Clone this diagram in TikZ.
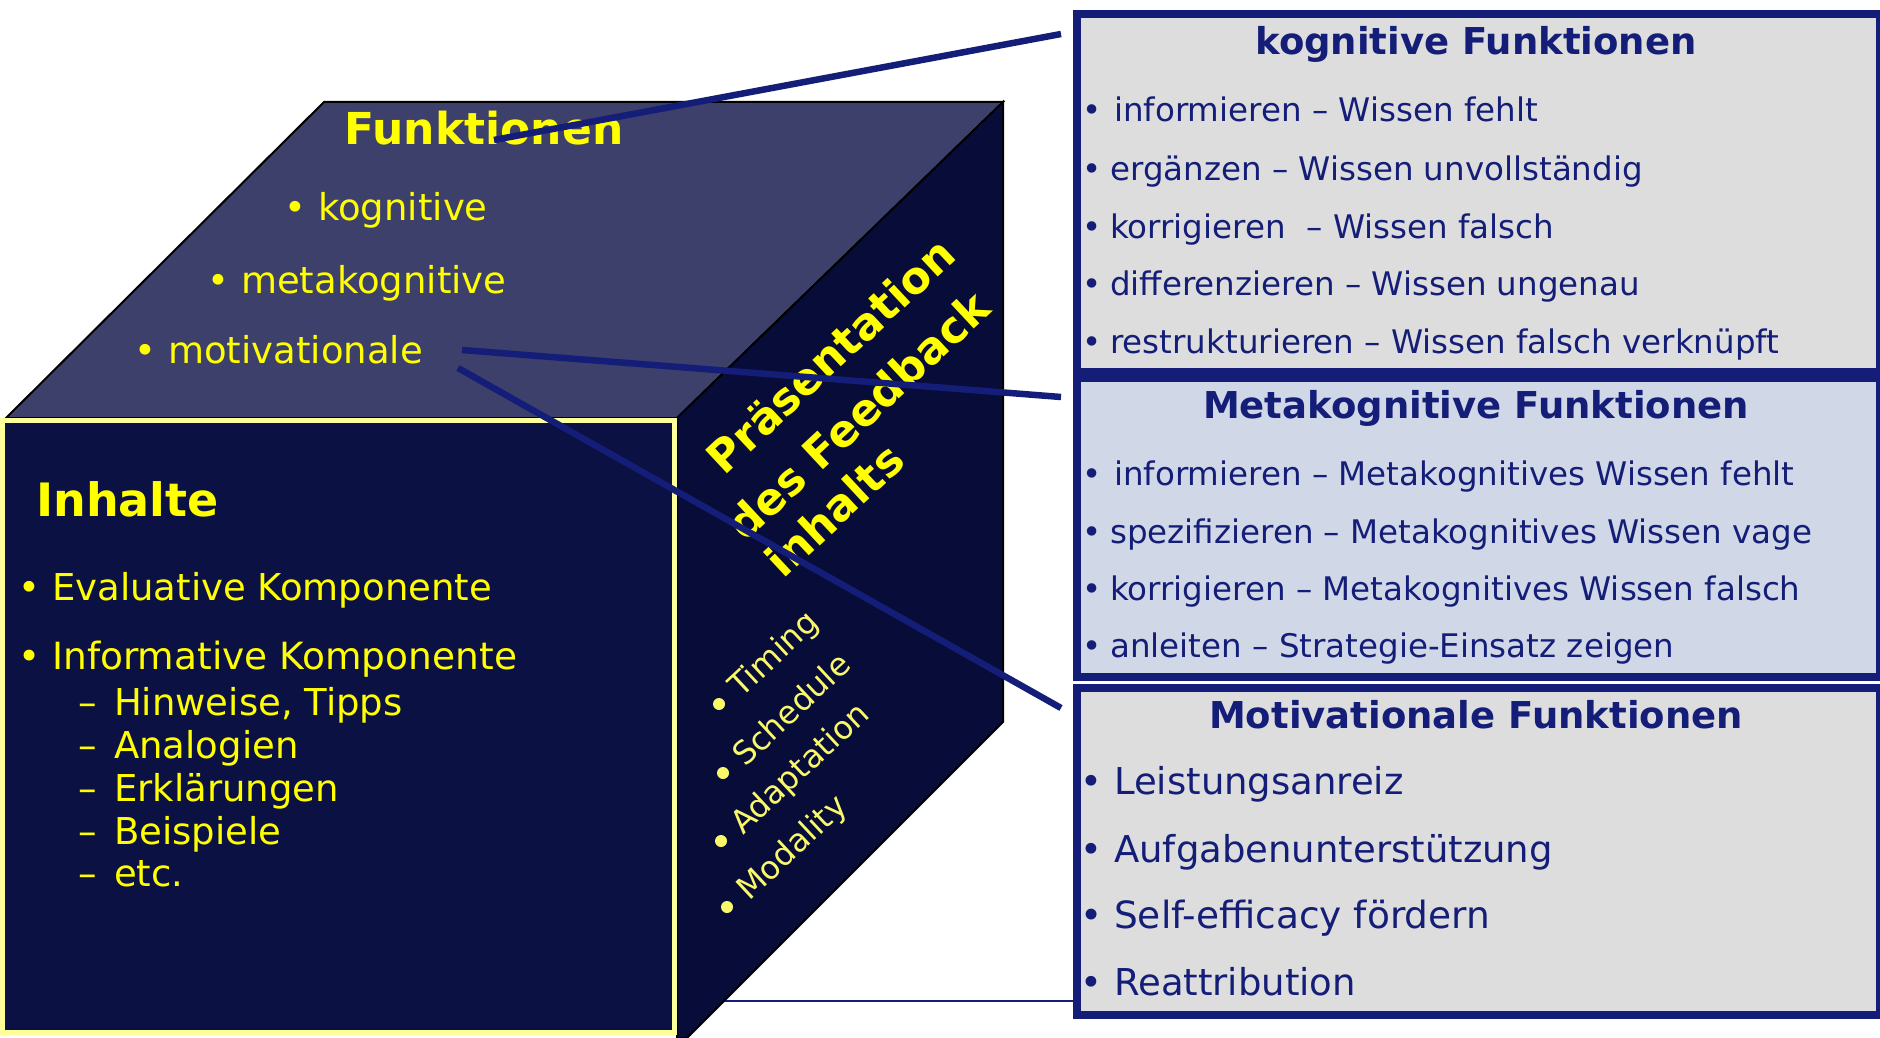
\documentclass[tikz,border=0pt]{standalone}
\usepackage{fontspec}
\setmainfont{DejaVu Sans}
\definecolor{navy}{HTML}{141E78}
\definecolor{topf}{HTML}{3C406B}
\definecolor{frontf}{HTML}{0B1142}
\definecolor{rightf}{HTML}{080C38}
\definecolor{ylw}{HTML}{FFFF00}
\definecolor{ylwb}{HTML}{FFFF99}
\definecolor{ylwl}{HTML}{F8F86A}
\definecolor{boxg}{HTML}{DDDDDD}
\definecolor{boxb}{HTML}{D0D7E6}
\newcommand\fs[1]{\fontsize{#1}{#1}\selectfont}
\newcommand\bl[1]{\makebox[#1][l]{•}}
\newcommand\dsh[1]{\makebox[#1][l]{–}}
\begin{document}
\begin{tikzpicture}[x=1pt,y=-1pt,
  tx/.style={inner sep=0pt, anchor=base west, font=\fs{#1}},
  btx/.style={inner sep=0pt, anchor=base, font=\bfseries\fs{#1}},
  rbox/.style={draw=navy, line width=8pt, inner sep=0pt, anchor=north west, minimum width=803pt},
  conn/.style={draw=navy, line width=6.5pt},
  rdot/.style={circle, fill=ylwl, inner sep=0pt, minimum size=12pt}
]
\useasboundingbox (0,0) rectangle (1880,1038);

% boxes
\node[rbox, fill=boxg, minimum height=358pt] (box1) at (1073,10) {};
\node[rbox, fill=boxb, minimum height=299pt] (box2) at (1073,374) {};
\node[rbox, fill=boxg, minimum height=327pt] (box3) at (1073,684) {};

% thin line behind the cube
\coordinate (c4s) at (700,1001);
\draw[navy, line width=2.5pt] (c4s) -- (c4s -| box3.west);

% cube faces
\filldraw[fill=topf, draw=black, line width=2pt] (6,418) -- (324,102) -- (1003,102) -- (677,418) -- cycle;
\filldraw[fill=rightf, draw=black, line width=2pt] (677,418) -- (1003,102) -- (1003,722) -- (687,1038) -- (677,1038) -- cycle;
\fill[frontf] (0,418) rectangle (677,1035);
\draw[ylwb, line width=5pt] (2.5,420.5) rectangle (674.5,1032.5);

% top face text
\node[btx=44, text=ylw] (funk) at (484,145) {Funktionen};
\node[tx=37, text=ylw] (kog) at (284,220) {\bl{34pt}kognitive};
\node[tx=37, text=ylw] (meta) at (207,293) {\bl{34pt}metakognitive};
\node[tx=37, text=ylw] (mot) at (134,363) {\bl{34pt}motivationale};

% front face text
\node[tx=46, font=\bfseries\fs{46}, text=ylw] (inh) at (36,516) {Inhalte};
\node[tx=37, text=ylw] (ev) at (18,600) {\bl{34pt}Evaluative Komponente};
\node[tx=37.5, text=ylw] (inf) at (18,669) {\bl{34pt}Informative Komponente};
\node[tx=37, text=ylw] (s1) at (78,715) {\dsh{36pt}Hinweise, Tipps};
\node[tx=37, text=ylw] (s2) at (78,758) {\dsh{36pt}Analogien};
\node[tx=37, text=ylw] (s3) at (78,801) {\dsh{36pt}Erklärungen};
\node[tx=37, text=ylw] (s4) at (78,844) {\dsh{36pt}Beispiele};
\node[tx=37, text=ylw] (s5) at (78,886) {\dsh{36pt}etc.};

% right face text
\node[rotate=43, inner sep=0pt, font=\bfseries\fs{44}, text=ylw] (pr1) at (830,355) {Präsentation};
\node[rotate=43, inner sep=0pt, font=\bfseries\fs{44}, text=ylw] (pr2) at (858,415) {des Feedback};
\node[rotate=43, inner sep=0pt, font=\bfseries\fs{44}, text=ylw] (pr3) at (834,510) {inhalts};

\node[rdot] (d1) at (719,704) {};
\node[rdot] (d2) at (723,773) {};
\node[rdot] (d3) at (721,841) {};
\node[rdot] (d4) at (727,907) {};
\node[tx=32, rotate=43, text=ylwl] (t1) at (741,699) {Timing};
\node[tx=32, rotate=43, text=ylwl] (t2) at (745,768) {Schedule};
\node[tx=32, rotate=43, text=ylwl] (t3) at (743,836) {Adaptation};
\node[tx=32, rotate=43, text=ylwl] (t4) at (749,902) {Modality};

% box 1
\node[btx=37, text=navy] (h1) at (1476,55) {kognitive Funktionen};
\node[tx=32.5, text=navy] (k1) at (1082,122) {\bl{32pt}informieren – Wissen fehlt};
\node[tx=32.5, text=navy] (k2) at (1082,180) {\bl{28pt}ergänzen – Wissen unvollständig};
\node[tx=32.5, text=navy] (k3) at (1082,238) {\bl{28pt}korrigieren\ \ – Wissen falsch};
\node[tx=32.5, text=navy] (k4) at (1082,295) {\bl{28pt}differenzieren – Wissen ungenau};
\node[tx=32.5, text=navy] (k5) at (1082,353) {\bl{28pt}restrukturieren – Wissen falsch verknüpft};
% box 2
\node[btx=37, text=navy] (h2) at (1476,418) {Metakognitive Funktionen};
\node[tx=32.5, text=navy] (m1) at (1082,485) {\bl{32pt}informieren – Metakognitives Wissen fehlt};
\node[tx=32.5, text=navy] (m2) at (1082,543) {\bl{28pt}spezifizieren – Metakognitives Wissen vage};
\node[tx=32.5, text=navy] (m3) at (1082,600) {\bl{28pt}korrigieren – Metakognitives Wissen falsch};
\node[tx=32.5, text=navy] (m4) at (1082,657) {\bl{28pt}anleiten – Strategie-Einsatz zeigen};
% box 3
\node[btx=37, text=navy] (h3) at (1476,728) {Motivationale Funktionen};
\node[tx=37, text=navy] (v1) at (1080,794) {\bl{34pt}Leistungsanreiz};
\node[tx=37, text=navy] (v2) at (1080,862) {\bl{34pt}Aufgabenunterstützung};
\node[tx=37.5, text=navy] (v3) at (1080,928) {\bl{34pt}Self-efficacy fördern};
\node[tx=37, text=navy] (v4) at (1080,995) {\bl{34pt}Reattribution};

% connectors
\coordinate (c1s) at (494,140);
\coordinate (c1e) at (1061,34);
\coordinate (c2s) at (462,350);
\coordinate (c2e) at (1061,397);
\coordinate (c3s) at (458,368);
\coordinate (c3e) at (1061,708);
\draw[conn] (c1s) -- (c1e);
\draw[conn] (c2s) -- (c2e);
\draw[conn] (c3s) -- (c3e);
\end{tikzpicture}
\end{document}
